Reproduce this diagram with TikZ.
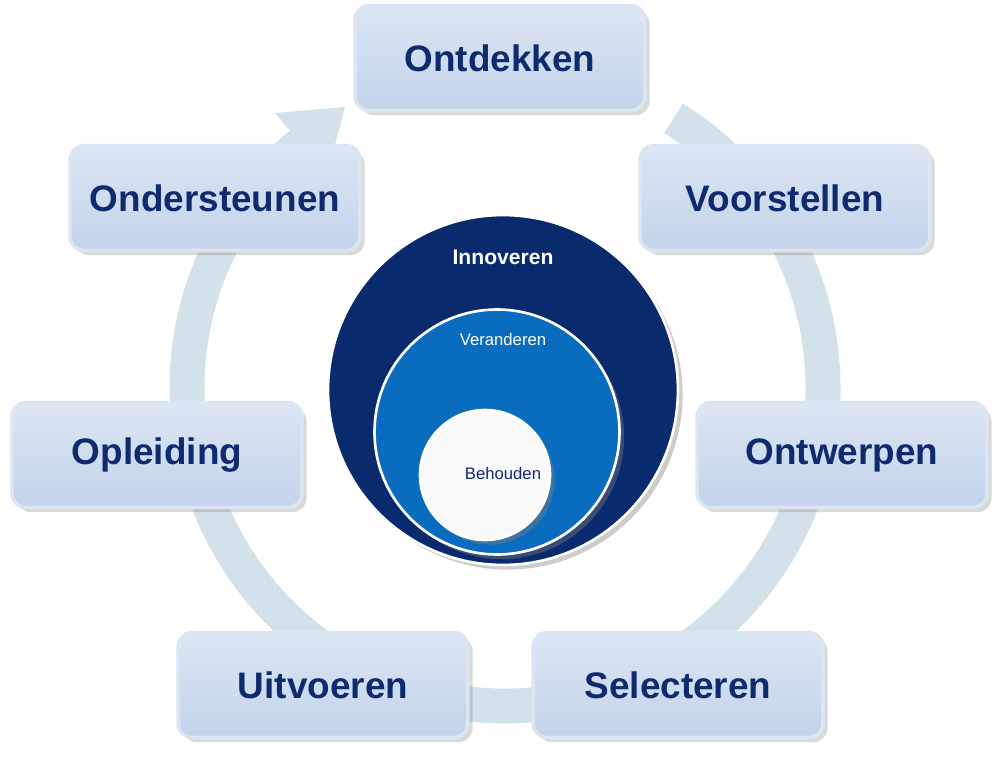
\documentclass[tikz,border=0pt]{standalone}
\usepackage{fontspec}
\setmainfont{Liberation Sans}
\usetikzlibrary{shadows}
\definecolor{boxfill}{HTML}{C3D3EB}
\definecolor{boxedge}{HTML}{DCE6F3}
\definecolor{navy}{HTML}{0F2A6E}
\definecolor{ringcol}{HTML}{D3E2EA}
\definecolor{innov}{HTML}{0A2A6E}
\definecolor{veran}{HTML}{0A6CBE}
\tikzset{
  stage/.style={draw=boxedge, line width=2pt, top color=boxedge, bottom color=boxfill,
    rounded corners=8pt, minimum width=5.8cm, minimum height=2.1cm,
    text=navy, font=\fontsize{21}{25}\selectfont\bfseries, drop shadow={opacity=0.3}},
  disc/.style={circle, draw=white, line width=1.5pt, drop shadow={opacity=0.4}}
}
\begin{document}
\begin{tikzpicture}[x=0.02cm, y=-0.02cm]
  \useasboundingbox (0,0) rectangle (1002,758);
  % cycle ring
  \coordinate (c) at (505,388);
  \draw[ringcol, line width=0.7cm]
    ([shift={(-58:318)}]c) arc[start angle=-58, end angle=231, radius=318];
  \fill[ringcol] (327,175) -- (345,107) -- (275,113) -- cycle;
  % centre discs
  \node[disc, fill=innov, minimum size=7cm] (innov) at (503,390) {};
  \node[font=\bfseries\fontsize{12}{14}\selectfont, text=white] (innovt) at (503,257) {Innoveren};
  \node[disc, fill=veran, minimum size=4.9cm] (veran) at (497,432) {};
  \node[font=\fontsize{9.5}{11}\selectfont, text=white] (verant) at (503,340) {Veranderen};
  \node[disc, fill=white!95!gray, minimum size=2.6cm] (behoud) at (485,475) {};
  \node[font=\fontsize{9.5}{11}\selectfont, text=navy] (behoudt) at (503,474) {Behouden};
  % stages
  \node[stage] (ontdek) at (500,58) {Ontdekken};
  \node[stage] (voorst) at (785,198) {Voorstellen};
  \node[stage] (ontwerp) at (842,455) {Ontwerpen};
  \node[stage] (select) at (678,685) {Selecteren};
  \node[stage] (uitvoer) at (323,685) {Uitvoeren};
  \node[stage] (opleid) at (157,455) {Opleiding};
  \node[stage] (onderst) at (215,198) {Ondersteunen};
\end{tikzpicture}
\end{document}
